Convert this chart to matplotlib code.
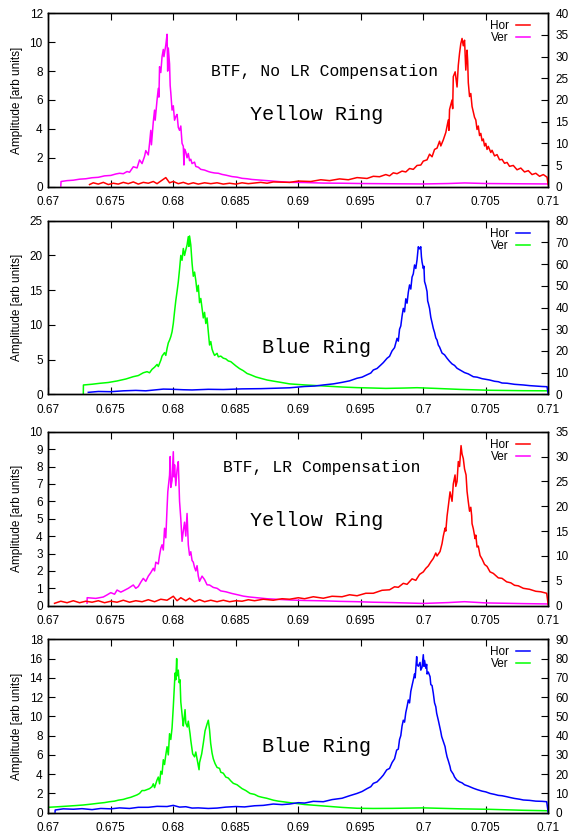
import numpy as np
import matplotlib
matplotlib.use("Agg")
import matplotlib.pyplot as plt
from matplotlib.ticker import MultipleLocator, FormatStrFormatter

plt.rcParams['font.family'] = ['Liberation Sans', 'DejaVu Sans']

# (frequency, amplitude) points

# Yellow ring, no LR compensation
y1_ver = [(0.6710, 0.05), (0.67102, 0.36), (0.6715, 0.42), (0.6720, 0.45), (0.6725, 0.52), (0.6730, 0.55),
          (0.6735, 0.62), (0.6740, 0.65), (0.6745, 0.75), (0.6750, 0.78), (0.6754, 0.88), (0.6757, 0.93),
          (0.6760, 0.9), (0.6763, 1.05), (0.6765, 1.0), (0.6768, 1.38), (0.6771, 1.3), (0.6773, 1.85),
          (0.6775, 1.6), (0.6777, 2.1), (0.6778, 2.5), (0.6780, 2.2), (0.6781, 3.0), (0.6782, 3.9),
          (0.67825, 2.9), (0.6784, 4.5), (0.6785, 5.3), (0.67855, 4.6), (0.6787, 6.0), (0.6788, 6.8),
          (0.67885, 6.2), (0.6789, 8.3), (0.6790, 7.9), (0.6791, 9.0), (0.6792, 9.5), (0.67925, 9.0),
          (0.6794, 9.8), (0.6795, 10.55), (0.67955, 8.0), (0.6796, 9.6), (0.6797, 8.5), (0.67975, 7.0),
          (0.6798, 6.5), (0.6799, 5.3), (0.6800, 5.6), (0.6801, 4.6), (0.6802, 4.85), (0.6803, 5.0),
          (0.6804, 4.1), (0.6805, 3.9), (0.6806, 4.2), (0.6807, 3.0), (0.6808, 2.8), (0.68085, 1.5),
          (0.6809, 2.6), (0.6810, 2.4), (0.6811, 2.0), (0.6812, 2.3), (0.6813, 1.8), (0.6814, 1.9),
          (0.6815, 1.6), (0.6817, 1.7), (0.6818, 1.4), (0.6820, 1.35), (0.6822, 1.2), (0.6825, 1.15),
          (0.6828, 1.05), (0.6830, 1.0), (0.6833, 0.95), (0.6836, 0.93), (0.6839, 0.85), (0.6842, 0.8),
          (0.6847, 0.7), (0.6851, 0.66), (0.6855, 0.58), (0.6859, 0.55), (0.6863, 0.5), (0.6869, 0.46),
          (0.6875, 0.42), (0.6885, 0.35), (0.6893, 0.3), (0.6905, 0.29), (0.6920, 0.25), (0.6935, 0.24),
          (0.6950, 0.22), (0.6965, 0.21), (0.6980, 0.2), (0.7000, 0.19), (0.7020, 0.22), (0.7033, 0.26),
          (0.7050, 0.22), (0.7065, 0.21), (0.7080, 0.2), (0.7100, 0.19)]
y1_hor = [(0.6733, 0.5), (0.6736, 0.9), (0.6740, 0.6), (0.6744, 1.0), (0.6748, 0.5), (0.6752, 0.8),
          (0.6756, 0.6), (0.6760, 1.0), (0.6764, 0.7), (0.6768, 1.1), (0.6772, 0.6), (0.6776, 1.0),
          (0.6780, 0.8), (0.6784, 1.2), (0.6787, 0.7), (0.6790, 1.3), (0.6794, 2.1), (0.6797, 0.9),
          (0.6800, 1.2), (0.6804, 0.7), (0.6808, 1.0), (0.6812, 0.6), (0.6816, 0.9), (0.6820, 0.6),
          (0.6825, 0.9), (0.6830, 0.7), (0.6835, 0.9), (0.6840, 0.6), (0.6845, 0.8), (0.6850, 0.6),
          (0.6855, 0.9), (0.6860, 0.7), (0.6870, 1.0), (0.6875, 0.8), (0.6880, 1.1), (0.6893, 1.0),
          (0.6900, 1.3), (0.6910, 1.2), (0.6918, 1.6), (0.6925, 1.4), (0.6933, 1.8), (0.6940, 1.6),
          (0.6947, 2.1), (0.6955, 1.9), (0.6960, 2.4), (0.6965, 2.3), (0.6970, 2.8), (0.6973, 2.5),
          (0.6976, 3.2), (0.6979, 3.0), (0.6983, 3.6), (0.6986, 3.4), (0.6989, 4.2), (0.6992, 4.0),
          (0.6995, 4.9), (0.6998, 5.0), (0.7000, 5.9), (0.7003, 6.2), (0.7005, 7.5), (0.7007, 6.9),
          (0.7009, 8.6), (0.7011, 8.9), (0.7013, 10.5), (0.7014, 9.4), (0.7016, 10.8), (0.7018, 12.5),
          (0.7020, 15.4), (0.70205, 13.0), (0.7021, 17.8), (0.7023, 20.0), (0.70235, 18.0), (0.7024, 25.4),
          (0.70255, 26.5), (0.7027, 23.0), (0.7028, 28.0), (0.7029, 30.8), (0.7030, 33.0), (0.7031, 34.2),
          (0.7032, 32.5), (0.7033, 33.8), (0.7034, 26.9), (0.7035, 31.5), (0.70355, 29.0), (0.7036, 24.0),
          (0.7037, 20.8), (0.7038, 21.5), (0.7039, 18.5), (0.7041, 16.0), (0.7042, 15.4), (0.7043, 13.2),
          (0.7044, 14.0), (0.7045, 11.8), (0.7046, 12.3), (0.7047, 10.6), (0.7048, 11.0), (0.7049, 9.4),
          (0.7050, 10.0), (0.7051, 8.6), (0.7052, 9.3), (0.7054, 7.9), (0.7055, 8.4), (0.7057, 7.1),
          (0.7059, 7.4), (0.7061, 6.2), (0.7063, 6.3), (0.7065, 5.4), (0.7067, 5.6), (0.7069, 4.7),
          (0.7072, 4.9), (0.7075, 3.9), (0.7078, 4.3), (0.7081, 3.4), (0.7084, 3.7), (0.7087, 2.8),
          (0.7090, 3.1), (0.7093, 2.4), (0.7096, 2.8), (0.7099, 2.2), (0.70999, 0.5)]

# Blue ring, no LR compensation
b1_ver = [(0.6728, 0.0), (0.67281, 1.34), (0.6735, 1.45), (0.6741, 1.58), (0.6748, 1.7), (0.6755, 1.92),
          (0.6762, 2.2), (0.6768, 2.54), (0.6772, 2.7), (0.6776, 3.1), (0.6779, 3.26), (0.6781, 3.1),
          (0.6783, 3.6), (0.6785, 3.9), (0.6787, 4.3), (0.6788, 4.0), (0.6790, 4.9), (0.6791, 5.5),
          (0.6793, 6.0), (0.6794, 5.6), (0.6795, 6.6), (0.6796, 7.4), (0.6797, 7.8), (0.6798, 8.3),
          (0.6799, 9.0), (0.6800, 10.2), (0.6801, 11.9), (0.6802, 13.5), (0.6803, 14.8), (0.6804, 16.2),
          (0.6805, 18.0), (0.6806, 20.0), (0.6807, 19.3), (0.6808, 21.0), (0.6809, 20.0), (0.6810, 20.8),
          (0.6811, 21.5), (0.6812, 22.7), (0.68125, 21.3), (0.6813, 22.8), (0.6814, 21.5), (0.6815, 18.9),
          (0.6816, 17.0), (0.6817, 17.6), (0.6818, 16.4), (0.6819, 14.8), (0.6820, 15.7), (0.6821, 13.2),
          (0.6822, 13.8), (0.6823, 12.4), (0.6824, 11.0), (0.6825, 11.8), (0.6826, 10.2), (0.6827, 11.0),
          (0.6828, 9.0), (0.6829, 7.1), (0.6830, 7.6), (0.6831, 6.5), (0.6832, 6.0), (0.6833, 5.6),
          (0.6835, 5.9), (0.6836, 5.4), (0.6838, 5.5), (0.6840, 5.2), (0.6842, 5.1), (0.6844, 4.8),
          (0.6846, 4.7), (0.6848, 4.4), (0.6850, 4.1), (0.6853, 3.7), (0.6856, 3.4), (0.6859, 3.0),
          (0.6862, 2.8), (0.6866, 2.5), (0.6870, 2.3), (0.6875, 2.06), (0.6880, 1.9), (0.6885, 1.75),
          (0.6893, 1.5), (0.6905, 1.35), (0.6920, 1.2), (0.6935, 1.05), (0.6947, 0.96), (0.6960, 0.9),
          (0.6970, 0.85), (0.6985, 0.9), (0.6995, 0.95), (0.7010, 0.85), (0.7030, 0.7), (0.7053, 0.58),
          (0.7080, 0.52), (0.7100, 0.5)]
b1_hor = [(0.6732, 0.9), (0.6740, 1.3), (0.6750, 1.2), (0.6760, 1.6), (0.6770, 1.8), (0.6778, 1.6),
          (0.6785, 2.0), (0.6792, 2.4), (0.6800, 2.3), (0.6808, 2.1), (0.6815, 2.0), (0.6828, 2.3),
          (0.6840, 2.2), (0.6855, 2.5), (0.6870, 2.6), (0.6882, 2.8), (0.6893, 3.0), (0.6905, 3.6),
          (0.6913, 3.8), (0.6920, 4.3), (0.6928, 4.8), (0.6935, 5.5), (0.6941, 6.2), (0.6947, 7.4),
          (0.6951, 7.9), (0.6955, 9.0), (0.6958, 9.8), (0.6960, 11.2), (0.6963, 11.9), (0.6966, 13.5),
          (0.6968, 14.6), (0.6971, 16.6), (0.6973, 17.5), (0.6975, 20.0), (0.6977, 21.5), (0.6979, 25.8),
          (0.6980, 24.5), (0.6981, 30.0), (0.6982, 31.5), (0.6983, 36.0), (0.6984, 39.6), (0.6985, 38.0),
          (0.6986, 44.0), (0.6987, 42.0), (0.6988, 47.0), (0.6989, 50.4), (0.6990, 48.5), (0.6991, 54.0),
          (0.6992, 55.5), (0.6993, 59.6), (0.6994, 58.0), (0.6995, 62.0), (0.6996, 68.0), (0.6997, 67.0),
          (0.6998, 68.0), (0.69985, 63.4), (0.6999, 61.0), (0.7000, 58.0), (0.70005, 59.0), (0.7001, 52.0),
          (0.7002, 50.0), (0.7003, 47.3), (0.70035, 43.0), (0.7004, 42.0), (0.7005, 39.6), (0.7006, 35.5),
          (0.7007, 33.0), (0.7008, 30.4), (0.7009, 28.5), (0.7010, 26.0), (0.7011, 25.0), (0.7012, 22.7),
          (0.7013, 21.8), (0.7015, 19.0), (0.7017, 18.2), (0.7019, 16.6), (0.7021, 15.2), (0.7023, 14.0),
          (0.7025, 13.3), (0.7027, 12.0), (0.7030, 11.0), (0.7033, 10.0), (0.7036, 9.4), (0.7040, 8.1),
          (0.7043, 7.9), (0.7047, 7.2), (0.7050, 6.9), (0.7053, 6.6), (0.7057, 6.0), (0.7060, 5.8),
          (0.7063, 5.2), (0.7067, 5.1), (0.7073, 4.6), (0.7080, 4.3), (0.7085, 4.0), (0.7090, 3.8),
          (0.7095, 3.6), (0.7099, 3.5), (0.70999, 0.3)]

# Yellow ring, LR compensation
y2_ver = [(0.6731, 0.15), (0.67311, 0.46), (0.6738, 0.42), (0.6744, 0.5), (0.6747, 0.62), (0.6750, 0.75),
          (0.6753, 0.66), (0.6755, 0.9), (0.6758, 0.78), (0.6760, 0.85), (0.6764, 1.0), (0.6768, 1.19),
          (0.6770, 1.0), (0.6772, 1.1), (0.6774, 1.35), (0.6776, 1.57), (0.6778, 1.4), (0.6780, 1.7),
          (0.6782, 1.9), (0.6784, 2.15), (0.6785, 2.0), (0.6786, 2.5), (0.6788, 2.4), (0.6789, 2.9),
          (0.6790, 3.3), (0.6791, 3.5), (0.6792, 3.2), (0.6793, 4.45), (0.6794, 3.9), (0.6795, 5.6),
          (0.67956, 6.55), (0.6797, 7.5), (0.67975, 8.57), (0.6798, 6.8), (0.6799, 7.2), (0.6800, 8.85),
          (0.68005, 7.4), (0.6801, 8.1), (0.6802, 6.9), (0.6803, 7.8), (0.6804, 8.28), (0.6805, 6.0),
          (0.6806, 5.0), (0.6807, 3.7), (0.6808, 4.3), (0.6809, 4.8), (0.6810, 4.0), (0.6811, 5.3),
          (0.6812, 3.5), (0.6813, 2.9), (0.6814, 3.1), (0.6815, 2.6), (0.6816, 2.5), (0.6817, 2.2),
          (0.6818, 2.0), (0.6819, 2.3), (0.6820, 1.7), (0.6821, 1.4), (0.6823, 1.7), (0.6825, 1.5),
          (0.6827, 1.2), (0.6829, 1.19), (0.6832, 1.05), (0.6835, 1.0), (0.6838, 0.85), (0.6842, 0.8),
          (0.6847, 0.7), (0.6852, 0.62), (0.6856, 0.55), (0.6861, 0.5), (0.6868, 0.45), (0.6875, 0.4),
          (0.6885, 0.36), (0.6893, 0.33), (0.6905, 0.3), (0.6920, 0.28), (0.6933, 0.25), (0.6947, 0.23),
          (0.6960, 0.2), (0.6975, 0.18), (0.6990, 0.15), (0.7000, 0.13), (0.7020, 0.18), (0.7033, 0.23),
          (0.7050, 0.16), (0.7065, 0.14), (0.7080, 0.12), (0.7100, 0.1)]
y2_hor = [(0.6705, 0.48), (0.6710, 0.9), (0.6715, 0.6), (0.6720, 1.0), (0.6725, 0.6), (0.6730, 0.9),
          (0.6735, 0.7), (0.6740, 1.0), (0.6745, 0.6), (0.6750, 0.9), (0.6755, 0.7), (0.6760, 1.1),
          (0.6765, 0.7), (0.6770, 1.0), (0.6775, 0.8), (0.6780, 1.2), (0.6785, 0.8), (0.6790, 1.3),
          (0.6795, 1.1), (0.6800, 1.9), (0.6803, 1.0), (0.6806, 1.6), (0.6810, 1.0), (0.6813, 1.5),
          (0.6817, 0.8), (0.6821, 1.2), (0.6825, 0.8), (0.6830, 1.1), (0.6835, 0.8), (0.6840, 1.1),
          (0.6845, 0.8), (0.6850, 1.0), (0.6855, 0.9), (0.6860, 1.2), (0.6865, 1.0), (0.6872, 1.3),
          (0.6880, 1.1), (0.6887, 1.4), (0.6893, 1.3), (0.6900, 1.6), (0.6905, 1.4), (0.6912, 1.8),
          (0.6920, 1.5), (0.6927, 1.9), (0.6935, 1.8), (0.6941, 2.2), (0.6947, 2.0), (0.6954, 2.5),
          (0.6960, 2.5), (0.6967, 3.1), (0.6973, 3.2), (0.6977, 3.8), (0.6980, 3.7), (0.6984, 4.5),
          (0.6987, 4.3), (0.6991, 5.4), (0.6994, 5.1), (0.6997, 6.3), (0.7000, 6.8), (0.7002, 7.5),
          (0.7004, 8.0), (0.7006, 8.8), (0.7008, 9.5), (0.7010, 10.6), (0.7011, 10.0), (0.70134, 10.9),
          (0.7015, 12.5), (0.7016, 14.0), (0.70174, 15.6), (0.7018, 15.0), (0.7019, 18.0), (0.7020, 20.0),
          (0.70214, 22.9), (0.7023, 21.0), (0.7024, 24.5), (0.70254, 26.3), (0.7026, 24.0), (0.7027, 25.0),
          (0.7028, 29.0), (0.7029, 28.0), (0.70302, 32.2), (0.7031, 30.5), (0.7032, 29.6), (0.7033, 27.5),
          (0.70342, 26.3), (0.7035, 23.0), (0.7036, 20.9), (0.7037, 19.0), (0.7038, 19.8), (0.70387, 18.1),
          (0.7039, 16.5), (0.7040, 15.5), (0.70414, 13.5), (0.7042, 14.2), (0.7043, 11.8), (0.7044, 12.0),
          (0.70454, 10.1), (0.7047, 9.4), (0.7049, 8.3), (0.7051, 7.9), (0.70534, 6.8), (0.7056, 6.5),
          (0.7060, 5.6), (0.7063, 5.5), (0.70667, 4.8), (0.7070, 4.6), (0.7073, 4.1), (0.7076, 4.0),
          (0.7080, 3.5), (0.7085, 3.3), (0.7090, 2.9), (0.7094, 2.8), (0.70987, 2.5), (0.70999, 0.3)]

# Blue ring, LR compensation
b2_ver = [(0.6700, 0.56), (0.6708, 0.62), (0.6715, 0.68), (0.6722, 0.74), (0.6728, 0.8), (0.6735, 0.9),
          (0.6740, 0.98), (0.6745, 1.05), (0.6749, 1.14), (0.6753, 1.2), (0.6756, 1.3), (0.6760, 1.38),
          (0.6763, 1.5), (0.6766, 1.6), (0.6768, 1.7), (0.6771, 1.85), (0.6773, 2.0), (0.6775, 2.3),
          (0.6777, 2.3), (0.6779, 2.4), (0.6781, 2.5), (0.6783, 2.7), (0.6784, 3.0), (0.6785, 2.6),
          (0.6787, 3.4), (0.6788, 3.7), (0.6789, 3.0), (0.6790, 4.3), (0.6791, 4.0), (0.6792, 5.5),
          (0.6793, 5.0), (0.6794, 6.0), (0.6795, 6.85), (0.6796, 6.0), (0.6797, 8.2), (0.6798, 7.6),
          (0.6799, 8.8), (0.6800, 11.0), (0.68014, 14.5), (0.6802, 13.8), (0.68027, 16.0), (0.6803, 14.2),
          (0.6804, 14.8), (0.68047, 13.5), (0.68054, 13.8), (0.6806, 11.5), (0.68075, 9.6), (0.6808, 9.0),
          (0.68094, 10.7), (0.6810, 9.3), (0.68112, 8.9), (0.6812, 9.5), (0.68134, 8.2), (0.6814, 7.5),
          (0.68155, 6.1), (0.6817, 5.8), (0.6818, 6.3), (0.68187, 5.8), (0.68206, 4.46), (0.6821, 5.2),
          (0.68227, 6.1), (0.6824, 7.2), (0.68254, 8.5), (0.6827, 9.2), (0.6828, 9.6), (0.6829, 8.6),
          (0.68299, 7.2), (0.6831, 6.2), (0.6832, 5.6), (0.68334, 5.1), (0.6835, 4.7), (0.6837, 4.6),
          (0.6838, 4.2), (0.6840, 4.1), (0.6842, 3.7), (0.6844, 3.6), (0.6846, 3.3), (0.6848, 3.05),
          (0.6851, 2.9), (0.6855, 2.5), (0.6858, 2.3), (0.68614, 2.0), (0.6865, 1.9), (0.6868, 1.7),
          (0.6871, 1.6), (0.68747, 1.5), (0.6880, 1.3), (0.6884, 1.2), (0.68934, 1.04), (0.6905, 0.85),
          (0.6920, 0.7), (0.6935, 0.55), (0.6947, 0.46), (0.6960, 0.44), (0.6975, 0.45), (0.6990, 0.48),
          (0.7000, 0.5), (0.7015, 0.45), (0.7030, 0.4), (0.7053, 0.35), (0.7080, 0.25), (0.7100, 0.2)]
b2_hor = [(0.67054, 0.3), (0.67055, 1.4), (0.6712, 2.0), (0.6720, 1.8), (0.6727, 2.1), (0.6735, 1.6),
          (0.6742, 2.2), (0.6750, 2.0), (0.6757, 2.5), (0.6765, 2.2), (0.6772, 2.8), (0.6780, 2.8),
          (0.6787, 3.3), (0.6795, 3.2), (0.6800, 3.8), (0.6805, 2.9), (0.6810, 3.1), (0.6815, 2.4),
          (0.6820, 2.5), (0.6828, 2.2), (0.6835, 2.4), (0.6842, 2.9), (0.6850, 3.2), (0.6857, 3.0),
          (0.6865, 3.6), (0.6872, 3.8), (0.6880, 4.5), (0.6887, 4.2), (0.6893, 4.5), (0.6900, 5.2),
          (0.6905, 5.0), (0.6912, 5.9), (0.6920, 5.7), (0.6927, 6.8), (0.6935, 7.5), (0.6941, 8.8),
          (0.6947, 10.0), (0.6951, 11.0), (0.6955, 12.5), (0.6958, 13.5), (0.6960, 15.2), (0.6963, 16.0),
          (0.6966, 18.0), (0.6968, 19.5), (0.69707, 22.2), (0.6973, 23.0), (0.6975, 26.0), (0.6977, 28.0),
          (0.69787, 32.5), (0.6980, 33.0), (0.6981, 38.0), (0.6982, 40.0), (0.6983, 45.0), (0.6984, 48.0),
          (0.6985, 47.0), (0.6986, 52.0), (0.6987, 55.0), (0.6988, 58.5), (0.6989, 57.0), (0.6990, 63.0),
          (0.6991, 66.0), (0.6992, 68.9), (0.6993, 72.0), (0.69935, 70.0), (0.69947, 81.0), (0.6995, 77.0),
          (0.6996, 76.0), (0.69974, 78.0), (0.6998, 74.0), (0.6999, 75.5), (0.7000, 82.0), (0.70005, 76.0),
          (0.7001, 79.0), (0.7002, 75.0), (0.70027, 77.0), (0.7003, 72.0), (0.7004, 73.0), (0.70054, 70.6),
          (0.7006, 66.5), (0.7007, 66.0), (0.7008, 62.0), (0.7009, 57.0), (0.7010, 55.0), (0.70107, 51.6),
          (0.7012, 48.0), (0.7013, 45.0), (0.7014, 42.0), (0.70147, 39.5), (0.7016, 37.0), (0.70174, 34.3),
          (0.7018, 32.0), (0.7019, 29.0), (0.7020, 27.0), (0.70214, 23.9), (0.7022, 22.0), (0.7024, 20.0),
          (0.7025, 18.5), (0.70267, 17.0), (0.7029, 16.0), (0.7031, 15.5), (0.7033, 14.5), (0.7036, 13.8),
          (0.7040, 12.7), (0.7043, 12.0), (0.7047, 11.2), (0.7050, 10.8), (0.70534, 10.0), (0.7057, 9.5),
          (0.7060, 9.0), (0.7063, 8.8), (0.70667, 8.3), (0.7070, 7.8), (0.7073, 7.4), (0.7077, 7.0),
          (0.7080, 6.6), (0.7085, 6.4), (0.7090, 6.0), (0.7095, 5.9), (0.70987, 5.7), (0.70999, 0.3)]

W, H = 575, 834
fig = plt.figure(figsize=(W / 100, H / 100), dpi=100)

# top px, bottom px, Ver (left axis), Hor (right axis), colours, left max/step, right max/step
panels = [
    (13.3, 186.7, y1_ver, y1_hor, '#ff00ff', '#ff0000', 12, 2, 40, 5),
    (220.7, 394.3, b1_ver, b1_hor, '#00ff00', '#0000ff', 25, 5, 80, 10),
    (431.7, 605.7, y2_ver, y2_hor, '#ff00ff', '#ff0000', 10, 1, 35, 5),
    (639.3, 812.7, b2_ver, b2_hor, '#00ff00', '#0000ff', 18, 2, 90, 10),
]

for top, bot, ver, hor, cver, chor, lmax, lstep, rmax, rstep in panels:
    ax = fig.add_axes([48.3 / W, 1 - bot / H, 500 / W, (bot - top) / H])
    vf, va = zip(*ver)
    lv, = ax.plot(vf, va, color=cver, lw=1.1)
    ax.set_xlim(0.67, 0.71)
    ax.set_ylim(0, lmax)
    ax.xaxis.set_major_locator(MultipleLocator(0.005))
    ax.xaxis.set_major_formatter(FormatStrFormatter('%g'))
    ax.yaxis.set_major_locator(MultipleLocator(lstep))
    ax.tick_params(direction='in', top=True, length=5, width=0.8, labelsize=8.5, pad=4)
    ax.tick_params(axis='x', pad=7)
    ax.set_ylabel('Amplitude [arb units]', fontsize=8.5, labelpad=5)

    ax2 = ax.twinx()
    hf, ha = zip(*hor)
    lh, = ax2.plot(hf, ha, color=chor, lw=1.1)
    ax2.set_ylim(0, rmax)
    ax2.yaxis.set_major_locator(MultipleLocator(rstep))
    ax2.tick_params(direction='in', length=5, width=0.8, labelsize=8.5, pad=5)
    for a in (ax, ax2):
        for s in a.spines.values():
            s.set_linewidth(1.0)

    ax2.legend([lh, lv], ['Hor', 'Ver'], loc='upper right', markerfirst=False, frameon=False,
               fontsize=8.5, handlelength=1.2, handletextpad=0.6, labelspacing=0.0,
               borderaxespad=0.2, bbox_to_anchor=(0.978, 1.0))

mono = ['Liberation Mono', 'DejaVu Sans Mono']
fig.text(324.5 / W, 1 - 71.7 / H, 'BTF, No LR Compensation', family=mono, fontsize=11.8, ha='center', va='center')
fig.text(316.5 / W, 1 - 115 / H, 'Yellow Ring', family=mono, fontsize=14.5, ha='center', va='center')
fig.text(316.7 / W, 1 - 347.7 / H, 'Blue Ring', family=mono, fontsize=14.5, ha='center', va='center')
fig.text(322 / W, 1 - 467.3 / H, 'BTF, LR Compensation', family=mono, fontsize=11.8, ha='center', va='center')
fig.text(316.5 / W, 1 - 520.7 / H, 'Yellow Ring', family=mono, fontsize=14.5, ha='center', va='center')
fig.text(316.7 / W, 1 - 746.7 / H, 'Blue Ring', family=mono, fontsize=14.5, ha='center', va='center')

fig.savefig('out.png', dpi=100)
